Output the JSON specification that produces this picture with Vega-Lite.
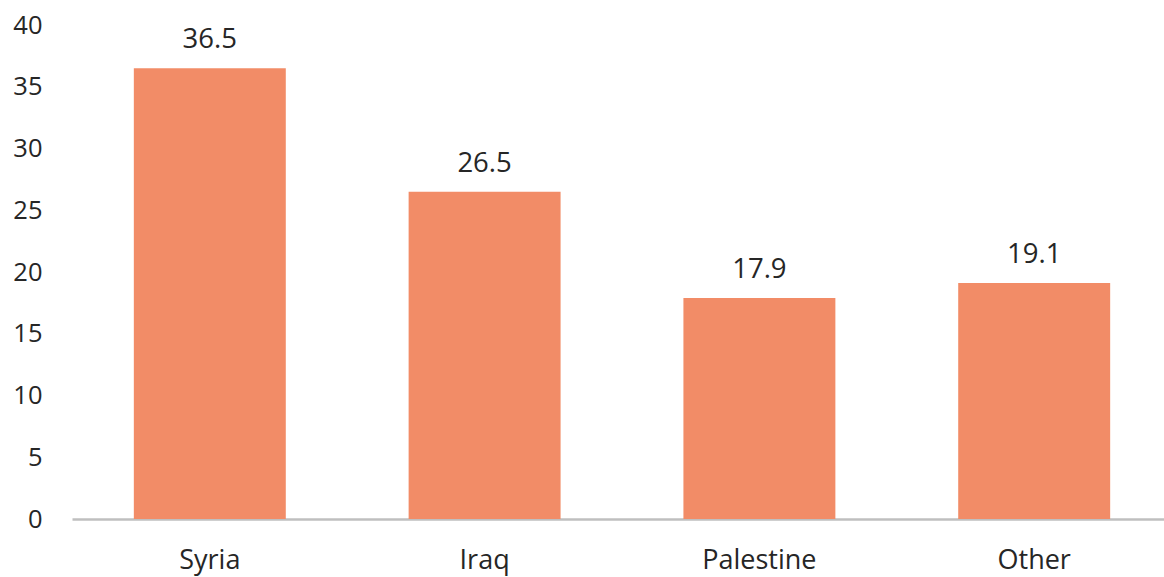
{
  "$schema": "https://vega.github.io/schema/vega-lite/v6.json",
  "width": 1092,
  "height": 494,
  "autosize": {"type": "none"},
  "padding": {"left": 72, "top": 25, "right": 0, "bottom": 58},
  "background": "white",
  "config": {
    "view": {"stroke": null},
    "font": "Open Sans",
    "axis": {"labelFont": "Open Sans", "labelFontSize": 25.5, "labelColor": "#262626", "grid": false, "ticks": false, "title": null}
  },
  "data": {
    "values": [
      {"country": "Syria", "value": 36.5},
      {"country": "Iraq", "value": 26.5},
      {"country": "Palestine", "value": 17.9},
      {"country": "Other", "value": 19.1}
    ]
  },
  "encoding": {
    "x": {
      "field": "country", "type": "nominal", "sort": null,
      "scale": {"paddingInner": 0.447, "paddingOuter": 0.225, "range": [0, 1100]},
      "axis": {"labelAngle": 0, "domainColor": "#BFBFBF", "domainWidth": 2.5, "labelBaseline": "alphabetic", "labelPadding": 49, "labelFontSize": 27}
    },
    "y": {
      "field": "value", "type": "quantitative",
      "scale": {"domain": [0, 40], "nice": false},
      "axis": {"values": [0, 5, 10, 15, 20, 25, 30, 35, 40], "domain": false, "labelPadding": 30}
    }
  },
  "layer": [
    {"mark": {"type": "bar", "color": "#F28C67"}},
    {
      "mark": {"type": "text", "baseline": "alphabetic", "dy": -20, "fontSize": 27.5, "color": "#262626", "font": "Open Sans"},
      "encoding": {"text": {"field": "value", "type": "quantitative", "format": ".1f"}}
    }
  ]
}
